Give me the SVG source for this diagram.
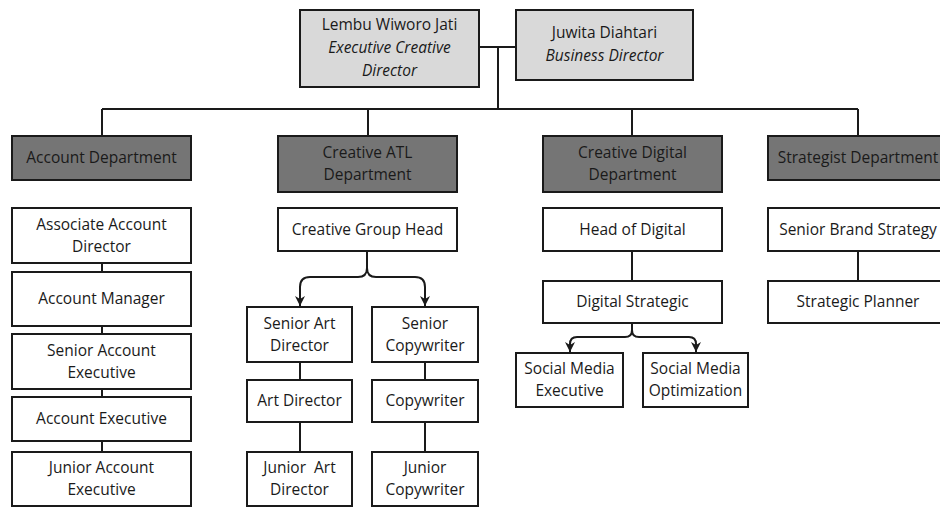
<svg xmlns="http://www.w3.org/2000/svg" width="940" height="507" viewBox="0 0 940 507">
<style>
.box{fill:#fff;stroke:#1a1a1a;stroke-width:2}
.top{fill:#d9d9d9;stroke:#1a1a1a;stroke-width:2}
.dept{fill:#757575;stroke:#1a1a1a;stroke-width:2}
text{font-family:"Open Sans","Noto Sans","Liberation Sans",sans-serif;font-size:15.5px;fill:#1a1a1a;text-anchor:middle}
.it{font-style:italic}
.ln{fill:none;stroke:#1a1a1a;stroke-width:2}
</style>
<defs>
<marker id="arr" markerUnits="userSpaceOnUse" markerWidth="12" markerHeight="12" refX="10" refY="5" orient="auto" viewBox="0 0 12 10">
<path d="M0,0 L10,5 L0,10 L3,5 z" fill="#1a1a1a"/>
</marker>
</defs>
<rect width="940" height="507" fill="#fff"/>
<g id="connectors">
<path class="ln" d="M479,47 H516 M498,47 V109 M102,109 H858 M102,109 V136 M368,109 V136 M632,109 V136 M858,109 V136"/>
<path class="ln" d="M102,263 V272 M102,326 V334 M102,389 V397 M102,441 V452"/>
<path class="ln" d="M300,362 V380 M300,422 V452 M425,362 V380 M425,422 V452"/>
<path class="ln" d="M632,251 V281 M858,251 V281"/>
<path class="ln" marker-end="url(#arr)" d="M367,251 V268 Q367,277 358,277 H310 Q300,277 300,287 V306"/>
<path class="ln" marker-end="url(#arr)" d="M367,268 Q367,277 376,277 H415 Q425,277 425,287 V306"/>
<path class="ln" marker-end="url(#arr)" d="M632,323 V330 Q632,337 625,337 H577 Q570,337 570,344 V352"/>
<path class="ln" marker-end="url(#arr)" d="M632,330 Q632,337 639,337 H689 Q696,337 696,344 V352"/>
</g>
<g id="ecd"><rect class="top" x="300" y="10" width="179" height="77"/><text x="389.5" y="30">Lembu Wiworo Jati</text><text class="it" x="389.5" y="53">Executive Creative</text><text class="it" x="389.5" y="76">Director</text></g>
<g id="bd"><rect class="top" x="516" y="10" width="177" height="70"/><text x="604.5" y="38">Juwita Diahtari</text><text class="it" x="604.5" y="61">Business Director</text></g>
<g id="acc-dept"><rect class="dept" x="12" y="136" width="179" height="44"/><text x="101.5" y="163">Account Department</text></g>
<g id="atl-dept"><rect class="dept" x="278" y="136" width="179" height="56"/><text x="367.5" y="158">Creative ATL</text><text x="367.5" y="180">Department</text></g>
<g id="dig-dept"><rect class="dept" x="543" y="136" width="179" height="56"/><text x="632.5" y="158">Creative Digital</text><text x="632.5" y="180">Department</text></g>
<g id="str-dept"><rect class="dept" x="768" y="136" width="180" height="44"/><text x="858" y="163">Strategist Department</text></g>
<g id="aad"><rect class="box" x="12" y="208" width="179" height="55"/><text x="101.5" y="230">Associate Account</text><text x="101.5" y="252">Director</text></g>
<g id="am"><rect class="box" x="12" y="272" width="179" height="54"/><text x="101.5" y="304">Account Manager</text></g>
<g id="sae"><rect class="box" x="12" y="334" width="179" height="55"/><text x="101.5" y="356">Senior Account</text><text x="101.5" y="378">Executive</text></g>
<g id="ae"><rect class="box" x="12" y="397" width="179" height="44"/><text x="101.5" y="424">Account Executive</text></g>
<g id="jae"><rect class="box" x="12" y="452" width="179" height="54"/><text x="101.5" y="473">Junior Account</text><text x="101.5" y="495">Executive</text></g>
<g id="cgh"><rect class="box" x="278" y="208" width="179" height="43"/><text x="367.5" y="235">Creative Group Head</text></g>
<g id="sad"><rect class="box" x="247" y="307" width="105" height="55"/><text x="299.5" y="329">Senior Art</text><text x="299.5" y="351">Director</text></g>
<g id="sc"><rect class="box" x="372" y="307" width="106" height="55"/><text x="425" y="329">Senior</text><text x="425" y="351">Copywriter</text></g>
<g id="ad"><rect class="box" x="247" y="380" width="105" height="42"/><text x="299.5" y="406">Art Director</text></g>
<g id="cw"><rect class="box" x="372" y="380" width="106" height="42"/><text x="425" y="406">Copywriter</text></g>
<g id="jad"><rect class="box" x="247" y="452" width="105" height="54"/><text x="299.5" y="473" xml:space="preserve">Junior  Art</text><text x="299.5" y="495">Director</text></g>
<g id="jc"><rect class="box" x="372" y="452" width="106" height="54"/><text x="425" y="473">Junior</text><text x="425" y="495">Copywriter</text></g>
<g id="hod"><rect class="box" x="543" y="208" width="179" height="43"/><text x="632.5" y="235">Head of Digital</text></g>
<g id="ds"><rect class="box" x="543" y="281" width="179" height="42"/><text x="632.5" y="307">Digital Strategic</text></g>
<g id="sme"><rect class="box" x="516" y="353" width="107" height="54"/><text x="569.5" y="374">Social Media</text><text x="569.5" y="396">Executive</text></g>
<g id="smo"><rect class="box" x="643" y="353" width="105" height="54"/><text x="695.5" y="374">Social Media</text><text x="695.5" y="396">Optimization</text></g>
<g id="sbs"><rect class="box" x="768" y="208" width="180" height="43"/><text x="858" y="235">Senior Brand Strategy</text></g>
<g id="sp"><rect class="box" x="768" y="281" width="180" height="42"/><text x="858" y="307">Strategic Planner</text></g>
</svg>
